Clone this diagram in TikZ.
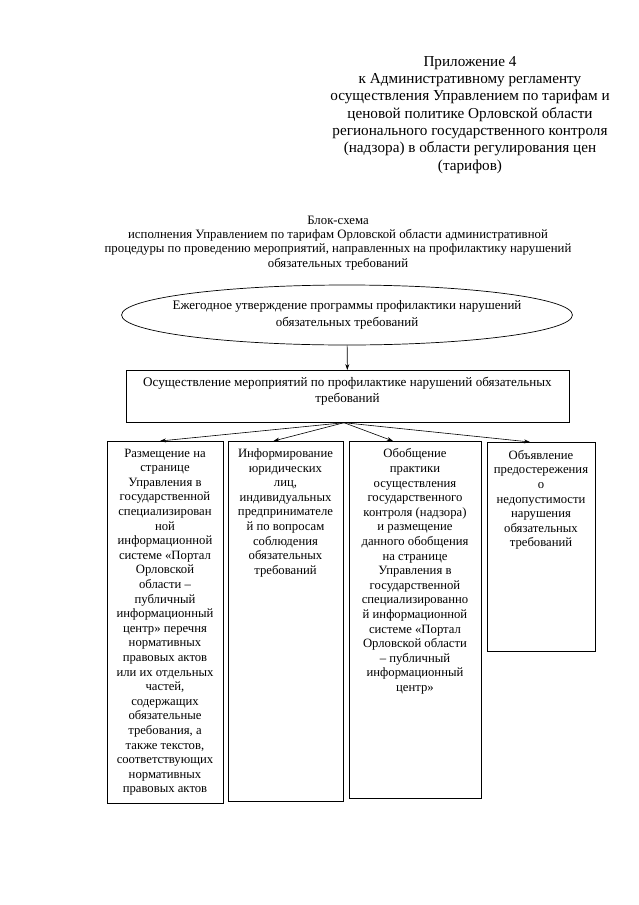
\documentclass[tikz,border=0pt]{standalone}
\usepackage{fontspec}
\setmainfont{Liberation Serif}
\usetikzlibrary{shapes.geometric,arrows.meta,positioning}

\begin{document}
\begin{tikzpicture}[x=1pt, y=-1pt,
    every node/.style={inner sep=0pt, align=center},
    frame/.style={draw, line width=0.7pt, rectangle},
    boxtext/.style={font=\fontsize{12.7}{14.6}\selectfont},
    link/.style={-{Stealth[length=6pt, width=4pt]}, line width=0.6pt}]
        \useasboundingbox (0,0) rectangle (639,905);

        % Heading
        \node[anchor=north, font=\fontsize{15.2}{17.3}\selectfont] (app) at (470,56)
            {Приложение 4\\ к Административному регламенту\\ осуществления Управлением по тарифам и\\ ценовой политике Орловской области\\ регионального государственного контроля\\ (надзора) в области регулирования цен\\ (тарифов)};
        \node[anchor=north, font=\fontsize{12.8}{14.2}\selectfont] (title) at (338,216)
            {Блок-схема\\ исполнения Управлением по тарифам Орловской области административной\\ процедуры по проведению мероприятий, направленных на профилактику нарушений\\ обязательных требований};

        % Upper nodes
        \node[ellipse, draw, line width=0.7pt, inner xsep=-15pt, minimum width=450, minimum height=60,
              font=\fontsize{13}{16.5}\selectfont] (plan) at (347,315)
            {Ежегодное утверждение программы профилактики нарушений\\ обязательных требований};
        \node[frame, minimum width=443, minimum height=52, anchor=north] (acts) at (347.5,370) {};
        \node[below=7pt of acts.north, font=\fontsize{13.1}{15.5}\selectfont] (actstext)
            {Осуществление мероприятий по профилактике нарушений обязательных\\ требований};

        % Lower boxes
        \node[frame, minimum width=116, minimum height=362, anchor=north] (b1) at (165,441) {};
        \node[frame, minimum width=115, minimum height=360, anchor=north] (b2) at (285.5,441) {};
        \node[frame, minimum width=132, minimum height=357, anchor=north] (b3) at (415,441) {};
        \node[frame, minimum width=108, minimum height=209, anchor=north] (b4) at (541,442) {};

        \node[boxtext, below=7.5pt of b1.north] (t1)
            {Размещение на\\ странице\\ Управления в\\ государственной\\ специализирован\\ ной\\ информационной\\ системе «Портал\\ Орловской\\ области --\\ публичный\\ информационный\\ центр» перечня\\ нормативных\\ правовых актов\\ или их отдельных\\ частей,\\ содержащих\\ обязательные\\ требования, а\\ также текстов,\\ соответствующих\\ нормативных\\ правовых актов};
        \node[boxtext, below=7.5pt of b2.north] (t2)
            {Информирование\\ юридических\\ лиц,\\ индивидуальных\\ предпринимателе\\ й по вопросам\\ соблюдения\\ обязательных\\ требований};
        \node[boxtext, below=7.5pt of b3.north] (t3)
            {Обобщение\\ практики\\ осуществления\\ государственного\\ контроля (надзора)\\ и размещение\\ данного обобщения\\ на странице\\ Управления в\\ государственной\\ специализированно\\ й информационной\\ системе «Портал\\ Орловской области\\ -- публичный\\ информационный\\ центр»};
        \node[boxtext, below=8pt of b4.north] (t4)
            {Объявление\\ предостережения\\ о\\ недопустимости\\ нарушения\\ обязательных\\ требований};

        % Links
        \draw[link] (plan) -- (acts);
        \draw[link] ([xshift=-3.5pt]acts.south) -- ([xshift=-5pt]b1.north);
        \draw[link] ([xshift=-3.5pt]acts.south) -- ([xshift=-12pt]b2.north);
        \draw[link] ([xshift=-3.5pt]acts.south) -- ([xshift=-22pt]b3.north);
        \draw[link] ([xshift=-3.5pt]acts.south) -- ([xshift=-11pt]b4.north);
    \end{tikzpicture}
\end{document}
